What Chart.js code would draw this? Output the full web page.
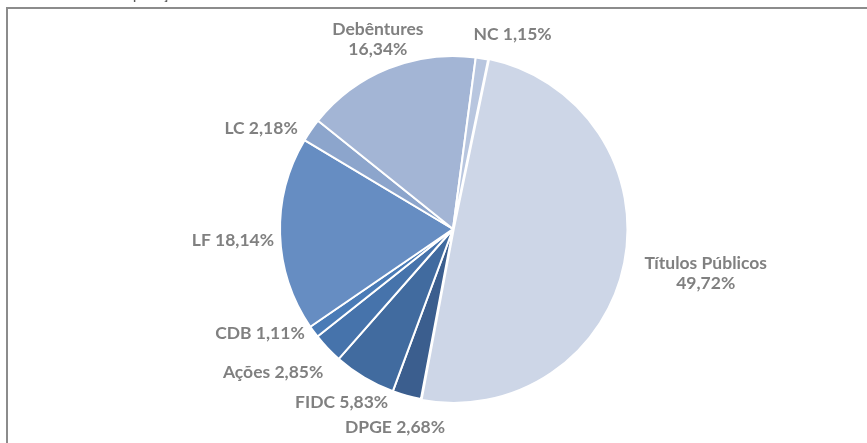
<!DOCTYPE html>
<html>
<head>
<meta charset="utf-8">
<script src="https://cdn.jsdelivr.net/npm/chart.js@4"></script>
<style>
  html, body { margin: 0; padding: 0; background: #fff; overflow: hidden; }
  #wrap { position: relative; width: 867px; height: 443px; }
  #frame { position: absolute; left: 6px; top: 7px; right: 0; bottom: 0;
           border-top: 2px solid #8c8c8c; border-left: 2px solid #8c8c8c; }
  canvas { position: absolute; left: 0; top: 0; }
</style>
</head>
<body>
<div id="wrap">
  <div id="frame"></div>
  <canvas id="pieChart" width="867" height="443"></canvas>
</div>
<script>
console.log("Composição chart loaded");

const categories = ['Títulos Públicos', 'DPGE', 'FIDC', 'Ações', 'CDB', 'LF', 'LC', 'Debêntures', 'NC'];
const shares = [49.72, 2.68, 5.83, 2.85, 1.11, 18.14, 2.18, 16.34, 1.15];
const sliceColors = ['#cdd6e7', '#3b5e8e', '#416b9f', '#4673ab', '#4a7bb6', '#668dc2', '#8ca5cc', '#a3b5d5', '#b8c6df'];
// labels split over two lines in the original
const twoLine = ['Títulos Públicos', 'Debêntures'];
// small hand nudges, Excel-style label placement
const labelNudge = [[12, 9], [-9, 12], [29, 16], [3, 17], [-1, -4], [4, 6], [-5, 4], [-7, 0], [29, -4]];

function fmt(v) {
    return v.toFixed(2).replace('.', ',') + '%';
}

const sliceLabels = {
    id: 'sliceLabels',
    afterDatasetsDraw(chart) {
        const ctx = chart.ctx;
        const meta = chart.getDatasetMeta(0);
        ctx.save();
        ctx.font = 'bold 17.5px Lato';
        ctx.fillStyle = '#808080';
        meta.data.forEach(function (arc, i) {
            const p = arc.getProps(['x', 'y', 'startAngle', 'endAngle', 'outerRadius'], true);
            const mid = (p.startAngle + p.endAngle) / 2;
            const dx = Math.cos(mid);
            const dy = Math.sin(mid);
            const r = p.outerRadius + 10;
            const x = p.x + dx * r + labelNudge[i][0];
            const y = p.y + dy * r + labelNudge[i][1];

            let align = 'center';
            if (dx > 0.4) align = 'left';
            if (dx < -0.4) align = 'right';

            const lines = twoLine.includes(categories[i])
                ? [categories[i], fmt(shares[i])]
                : [categories[i] + ' ' + fmt(shares[i])];
            const lh = 20;
            const h = lines.length * lh;
            let top;
            if (align !== 'center') top = y - h / 2;
            else if (dy < 0) top = y - h;
            else top = y;

            // block centre, lines centred inside the block
            const w = Math.max.apply(null, lines.map(function (t) { return ctx.measureText(t).width; }));
            let cx = x;
            if (align === 'left') cx = x + w / 2;
            if (align === 'right') cx = x - w / 2;

            ctx.textAlign = 'center';
            ctx.textBaseline = 'middle';
            lines.forEach(function (t, k) {
                ctx.fillText(t, cx, top + lh / 2 + k * lh);
            });
        });

        // title text cut off at the top edge
        ctx.font = '16px Lato';
        ctx.fillStyle = '#595959';
        ctx.textAlign = 'left';
        ctx.textBaseline = 'alphabetic';
        ctx.fillText('Composição da Carteira', 100, -1);
        ctx.restore();
    }
};

document.addEventListener('DOMContentLoaded', function () {

    const chartCanvas = document.getElementById('pieChart');

    new Chart(chartCanvas, {

        type: 'pie',

        data: {
            labels: categories,
            datasets: [{
                data: shares,
                backgroundColor: sliceColors,
                borderColor: '#ffffff',
                borderWidth: 2,
                offset: [3, 0, 0, 0, 0, 0, 0, 0, 0],
                radius: 173
            }]
        },

        options: {
            responsive: false,
            animation: false,
            rotation: 11.7,
            layout: {
                padding: { top: 56, bottom: 41, left: 100, right: 61 }
            },
            plugins: {
                legend: { display: false },
                tooltip: { enabled: false }
            }
        },

        plugins: [sliceLabels]

    });

});
</script>
</body>
</html>
